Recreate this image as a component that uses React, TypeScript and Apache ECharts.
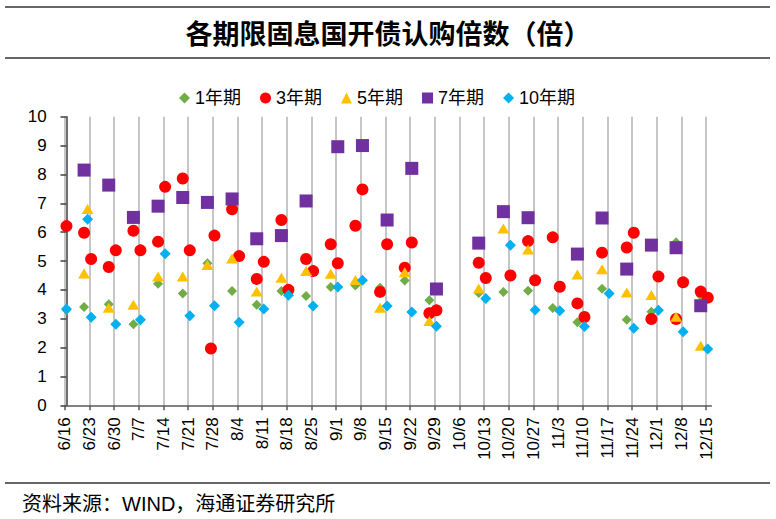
import React, { useEffect, useRef } from 'react';
import * as echarts from 'echarts';

const YEAR = 2022;
const START_DATE = '6/16';

const tickLabels = ['6/16', '6/23', '6/30', '7/7', '7/14', '7/21', '7/28', '8/4', '8/11', '8/18', '8/25', '9/1', '9/8', '9/15', '9/22', '9/29', '10/6', '10/13', '10/20', '10/27', '11/3', '11/10', '11/17', '11/24', '12/1', '12/8', '12/15'];

const y1Dates = ['6/16', '6/21', '6/28', '7/5', '7/12', '7/19', '7/26', '8/2', '8/9', '8/16', '8/23', '8/30', '9/6', '9/13', '9/20', '9/27', '10/11', '10/18', '10/25', '11/1', '11/8', '11/15', '11/22', '11/29', '12/6', '12/13'];
const y1Values = [3.30, 3.41, 3.50, 2.81, 4.21, 3.87, 4.92, 3.96, 3.48, 3.96, 3.79, 4.10, 4.15, 4.07, 4.32, 3.64, 3.89, 3.93, 3.97, 3.37, 2.88, 4.04, 2.96, 3.24, 5.65, 3.80];

const y3Dates = ['6/16', '6/21', '6/23', '6/28', '6/30', '7/5', '7/7', '7/12', '7/14', '7/19', '7/21', '7/27', '7/28', '8/2', '8/4', '8/9', '8/11', '8/16', '8/18', '8/23', '8/25', '8/30', '9/1', '9/6', '9/8', '9/13', '9/15', '9/20', '9/22', '9/27', '9/29', '10/11', '10/13', '10/20', '10/25', '10/27', '11/1', '11/3', '11/8', '11/10', '11/15', '11/22', '11/24', '11/29', '12/1', '12/6', '12/8', '12/13', '12/15'];
const y3Values = [6.21, 5.98, 5.07, 4.79, 5.37, 6.05, 5.37, 5.67, 7.57, 7.86, 5.37, 1.97, 5.88, 6.79, 5.17, 4.38, 4.97, 6.42, 4.00, 5.07, 4.65, 5.58, 4.92, 6.22, 7.48, 3.93, 5.58, 4.77, 5.64, 3.19, 3.29, 4.94, 4.41, 4.50, 5.69, 4.33, 5.82, 4.11, 3.53, 3.06, 5.29, 5.47, 5.98, 2.99, 4.46, 2.99, 4.26, 3.94, 3.73];

const y5Dates = ['6/21', '6/22', '6/28', '7/5', '7/12', '7/19', '7/26', '8/2', '8/9', '8/16', '8/23', '8/30', '9/6', '9/13', '9/20', '9/27', '10/11', '10/18', '10/25', '11/8', '11/15', '11/22', '11/29', '12/6', '12/13'];
const y5Values = [4.57, 6.80, 3.38, 3.48, 4.46, 4.46, 4.86, 5.09, 3.94, 4.42, 4.65, 4.56, 4.34, 3.38, 4.61, 2.92, 4.05, 6.13, 5.40, 4.53, 4.71, 3.91, 3.82, 3.07, 2.06];

const y7Dates = ['6/21', '6/28', '7/5', '7/12', '7/19', '7/26', '8/2', '8/9', '8/16', '8/23', '9/1', '9/8', '9/15', '9/22', '9/29', '10/11', '10/18', '10/25', '11/8', '11/15', '11/22', '11/29', '12/6', '12/13'];
const y7Values = [8.15, 7.63, 6.51, 6.90, 7.20, 7.03, 7.15, 5.77, 5.88, 7.08, 8.96, 9.00, 6.42, 8.21, 4.03, 5.62, 6.71, 6.50, 5.24, 6.49, 4.72, 5.55, 5.46, 3.45];

const y10Dates = ['6/16', '6/22', '6/23', '6/30', '7/7', '7/14', '7/21', '7/28', '8/4', '8/11', '8/18', '8/25', '9/1', '9/8', '9/15', '9/22', '9/29', '10/13', '10/20', '10/27', '11/3', '11/10', '11/17', '11/24', '12/1', '12/8', '12/15'];
const y10Values = [3.34, 6.45, 3.05, 2.81, 2.96, 5.25, 3.10, 3.45, 2.88, 3.34, 3.81, 3.44, 4.10, 4.33, 3.44, 3.23, 2.74, 3.70, 5.55, 3.30, 3.28, 2.73, 3.87, 2.67, 3.29, 2.55, 1.95];

const seriesNames = ['1年期', '3年期', '5年期', '7年期', '10年期'];
const seriesColors = ['#70AD47', '#FF0000', '#FFC000', '#7030A0', '#00B0F0'];
const seriesSymbols = ['diamond', 'circle', 'triangle', 'rect', 'diamond'];
const seriesSizes: any[] = [[10, 10], 12, [12, 10], 13, [11, 11]];

const Y_MIN = 0;
const Y_MAX = 10;

const FONT = '"Liberation Sans", Arial, "Noto Sans CJK SC", sans-serif';

function toMs(md: string): number {
  const [m, d] = md.split('/').map(Number);
  return Date.UTC(YEAR, m - 1, d);
}
function dayIndex(md: string): number {
  return Math.round((toMs(md) - toMs(START_DATE)) / 86400000);
}

export default function App() {
  const ref = useRef<HTMLDivElement>(null);

  useEffect(() => {
    if (!ref.current) return;
    const chart = echarts.init(ref.current, null, { renderer: 'svg' });

    const tickPos = tickLabels.map((t) => dayIndex(t) - 0.5);
    const lastDay = dayIndex(tickLabels[tickLabels.length - 1]);
    const groups = [
      [y1Dates, y1Values],
      [y3Dates, y3Values],
      [y5Dates, y5Values],
      [y7Dates, y7Values],
      [y10Dates, y10Values],
    ];

    const dataSeries = groups.map(([dates, vals], i) => ({
      name: seriesNames[i],
      type: 'scatter',
      symbol: seriesSymbols[i],
      symbolSize: seriesSizes[i],
      itemStyle: { color: seriesColors[i], opacity: 1 },
      z: 2,
      data: (dates as string[]).map((d, k) => [dayIndex(d), (vals as number[])[k]]),
    }));

    const option: any = {
      animation: false,
      backgroundColor: '#ffffff',
      grid: { left: 64.7, right: 64.7, top: 116.7, bottom: 113.7 },
      legend: {
        data: seriesNames.map((n, i) => ({ name: n, icon: seriesSymbols[i] })),
        left: 174,
        top: 84,
        itemWidth: 11,
        itemHeight: 11,
        itemGap: 19,
        selectedMode: false,
        textStyle: { fontSize: 18, color: '#000', fontFamily: FONT },
      },
      xAxis: {
        type: 'value',
        min: -0.5,
        max: lastDay + 1,
        axisLine: { show: true, lineStyle: { color: '#595959', width: 1.5 } },
        axisTick: { show: true, customValues: tickPos, length: 5, lineStyle: { color: '#595959', width: 1.5 } },
        axisLabel: {
          customValues: tickPos,
          rotate: 90,
          margin: 12,
          fontSize: 17,
          color: '#000',
          fontFamily: FONT,
          formatter: (v: number) => {
            const i = tickPos.findIndex((t) => Math.abs(t - v) < 1e-6);
            return i >= 0 ? tickLabels[i] : '';
          },
        },
        splitLine: { show: true, lineStyle: { color: '#c6c6c6', width: 2, type: 'solid' } },
      },
      yAxis: {
        type: 'value',
        min: Y_MIN,
        max: Y_MAX,
        interval: 1,
        axisLine: { show: true, lineStyle: { color: '#404040', width: 1.5 } },
        axisTick: { show: true, length: 6, lineStyle: { color: '#404040', width: 1.5 } },
        axisLabel: { fontSize: 17, margin: 18, color: '#000', fontFamily: FONT },
        splitLine: { show: false },
      },
      graphic: [
        { type: 'line', shape: { x1: 5, y1: 7, x2: 770, y2: 7 }, style: { stroke: '#333', lineWidth: 1.3 }, silent: true },
        { type: 'line', shape: { x1: 5, y1: 58, x2: 770, y2: 58 }, style: { stroke: '#333', lineWidth: 1.3 }, silent: true },
        { type: 'line', shape: { x1: 5, y1: 483, x2: 770, y2: 483 }, style: { stroke: '#333', lineWidth: 1.3 }, silent: true },
        {
          type: 'text',
          x: 388,
          y: 32,
          silent: true,
          style: {
            text: '各期限固息国开债认购倍数（倍）',
            fontSize: 27,
            fontWeight: 'bold',
            fontFamily: '"Noto Sans CJK SC", sans-serif',
            fill: '#000',
            textAlign: 'center',
            textVerticalAlign: 'middle',
          },
        },
        {
          type: 'text',
          x: 22,
          y: 504,
          silent: true,
          style: {
            text: '资料来源：WIND，海通证券研究所',
            fontSize: 20,
            fontFamily: FONT,
            fill: '#000',
            textAlign: 'left',
            textVerticalAlign: 'middle',
          },
        },
      ],
      series: dataSeries,
    };

    chart.setOption(option);
    return () => chart.dispose();
  }, []);

  return (
    <div
      ref={ref}
      style={{ position: 'absolute', left: 0, top: 0, width: 776, height: 519, background: '#fff' }}
    />
  );
}
